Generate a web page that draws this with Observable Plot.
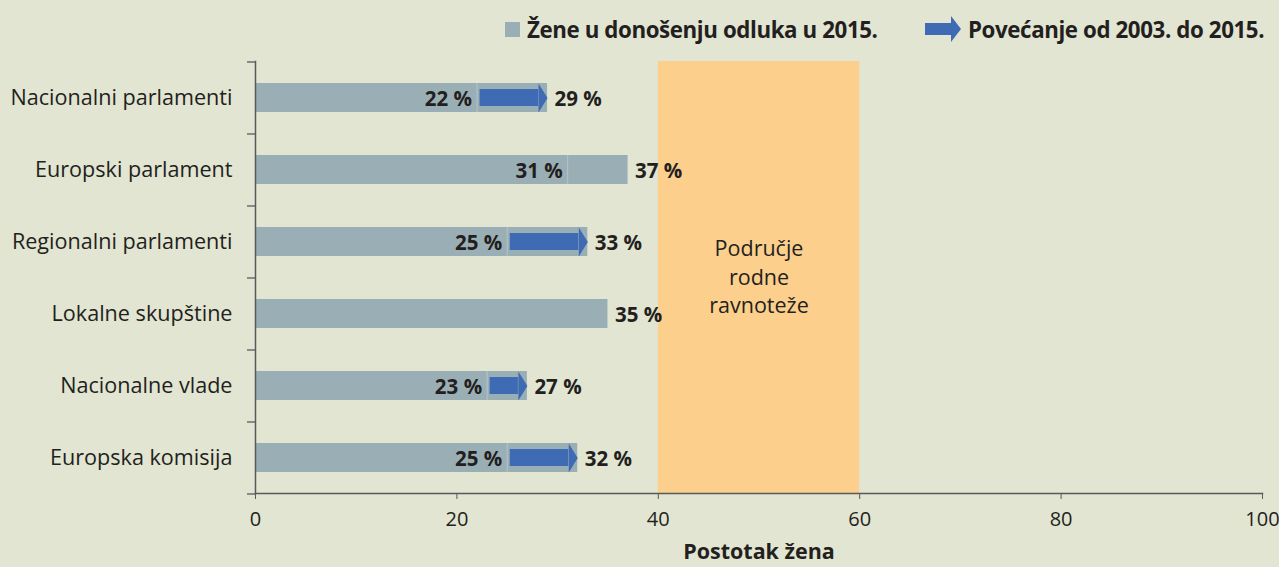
<!DOCTYPE html>
<html>
<head>
<meta charset="utf-8">
<script src="https://cdn.jsdelivr.net/npm/d3@7"></script>
<script src="https://cdn.jsdelivr.net/npm/@observablehq/plot@0.6"></script>
<style>
  html, body { margin: 0; padding: 0; background: #e1e5d1; }
  #wrap { position: relative; width: 1279px; height: 567px; font-family: "Open Sans", sans-serif; color: #231f20; }
  #legend { position: absolute; top: 11px; left: 0; width: 1279px; height: 36px; font-weight: 700; font-size: 22.3px; }
  .li { position: absolute; top: 0; display: flex; align-items: center; height: 36px; white-space: nowrap; letter-spacing: -0.4px; }
  .sw { display: inline-block; width: 15px; height: 15px; background: #9aafb5; margin-right: 7px; }
  #chart { position: absolute; top: 0; left: 0; }
</style>
</head>
<body>
<div id="wrap">
  <div id="chart"></div>
  <div id="legend">
    <div class="li" style="left:505px"><span class="sw"></span><span>Žene u donošenju odluka u 2015.</span></div>
    <div class="li" style="left:925px">
      <svg width="36" height="26" style="margin-right:7px"><path d="M0,7 H26 V0 L36,13 L26,26 V19 H0 Z" fill="#3e6bb4"/></svg>
      <span>Povećanje od 2003. do 2015.</span>
    </div>
  </div>
</div>
<script>
// Data
const categories = ["Nacionalni parlamenti", "Europski parlament", "Regionalni parlamenti", "Lokalne skupštine", "Nacionalne vlade", "Europska komisija"];
const value2015 = [29, 37, 33, 35, 27, 32];
const value2003 = [22, 31, 25, null, 23, 25];
const hasArrow = [true, false, true, false, true, true];
const xTicks = [0, 20, 40, 60, 80, 100];
const zoneStart = [40];
const zoneEnd = [60];
const zoneLabel = ["Područje\nrodne\nravnoteže"];
const xLabel = "Postotak žena";

const rows = categories.map((c, i) => ({cat: c, v15: value2015[i], v03: value2003[i], arrow: hasArrow[i]}));
const withOld = rows.filter(d => d.v03 != null);
const arrows = rows.filter(d => d.arrow);
const zone = zoneStart.map((s, i) => ({start: s, end: zoneEnd[i], label: zoneLabel[i]}));

const barColor = "#9aafb5";
const arrowColor = "#3e6bb4";
const ink = "#231f20";
const axisColor = "#58595b";

const head = {
  draw(ctx) {
    ctx.moveTo(-9, -14.5);
    ctx.lineTo(0, 0);
    ctx.lineTo(-9, 14.5);
    ctx.closePath();
  }
};

const plot = Plot.plot({
  width: 1279,
  height: 567,
  marginLeft: 255,
  marginRight: 17,
  marginTop: 61,
  marginBottom: 74,
  style: {background: "transparent", fontFamily: "Open Sans, sans-serif", color: ink},
  x: {domain: [0, 100]},
  y: {domain: categories, paddingInner: 0.6, paddingOuter: 0.3},
  marks: [
    Plot.rect(zone, {x1: "start", x2: "end", fill: "#fccf8c"}),
    Plot.text(zone, {x: d => (d.start + d.end) / 2, text: "label", frameAnchor: "middle", fontSize: 21.5, lineHeight: 1.32, dy: -2, fill: ink}),
    Plot.barX(rows, {x1: 0, x2: "v15", y: "cat", fill: barColor}),
    Plot.tickX(withOld, {x: "v03", y: "cat", stroke: "#b3c4c8", strokeWidth: 1}),
    Plot.barX(arrows, {x1: "v03", x2: "v15", y: "cat", fill: arrowColor, insetLeft: 3, insetRight: 9, insetTop: 6, insetBottom: 6}),
    Plot.dot(arrows, {x: "v15", y: "cat", symbol: head, fill: arrowColor, stroke: "none", r: 10}),
    Plot.text(withOld, {x: "v03", y: "cat", text: d => d.v03 + " %", textAnchor: "end", dx: -5, dy: 1, fontSize: 20.5, fontWeight: 700, fill: ink}),
    Plot.text(rows, {x: "v15", y: "cat", text: d => d.v15 + " %", textAnchor: "start", dx: 7, dy: 1, fontSize: 20.5, fontWeight: 700, fill: ink}),
    Plot.axisY({tickSize: 0, tickPadding: 23, fontSize: 21.6, label: null}),
    Plot.ruleY(categories, {y: d => d, x1: 0, x2: 0, insetLeft: -8, dy: 36, stroke: axisColor, strokeWidth: 1.3}),
    Plot.ruleY(categories.slice(0, 1), {y: d => d, x1: 0, x2: 0, insetLeft: -8, dy: -36, stroke: axisColor, strokeWidth: 1.3}),
    Plot.frame({anchor: "left", stroke: axisColor, strokeWidth: 1.5}),
    Plot.frame({anchor: "bottom", stroke: axisColor, strokeWidth: 1.5}),
    Plot.axisX({ticks: xTicks, tickSize: 6, tickPadding: 12, fontSize: 20, stroke: axisColor, label: null}),
    Plot.text([xLabel], {text: d => d, frameAnchor: "bottom", dy: 65, fontSize: 21.5, fontWeight: 700, fill: ink})
  ]
});
document.getElementById("chart").appendChild(plot);
</script>
</body>
</html>
